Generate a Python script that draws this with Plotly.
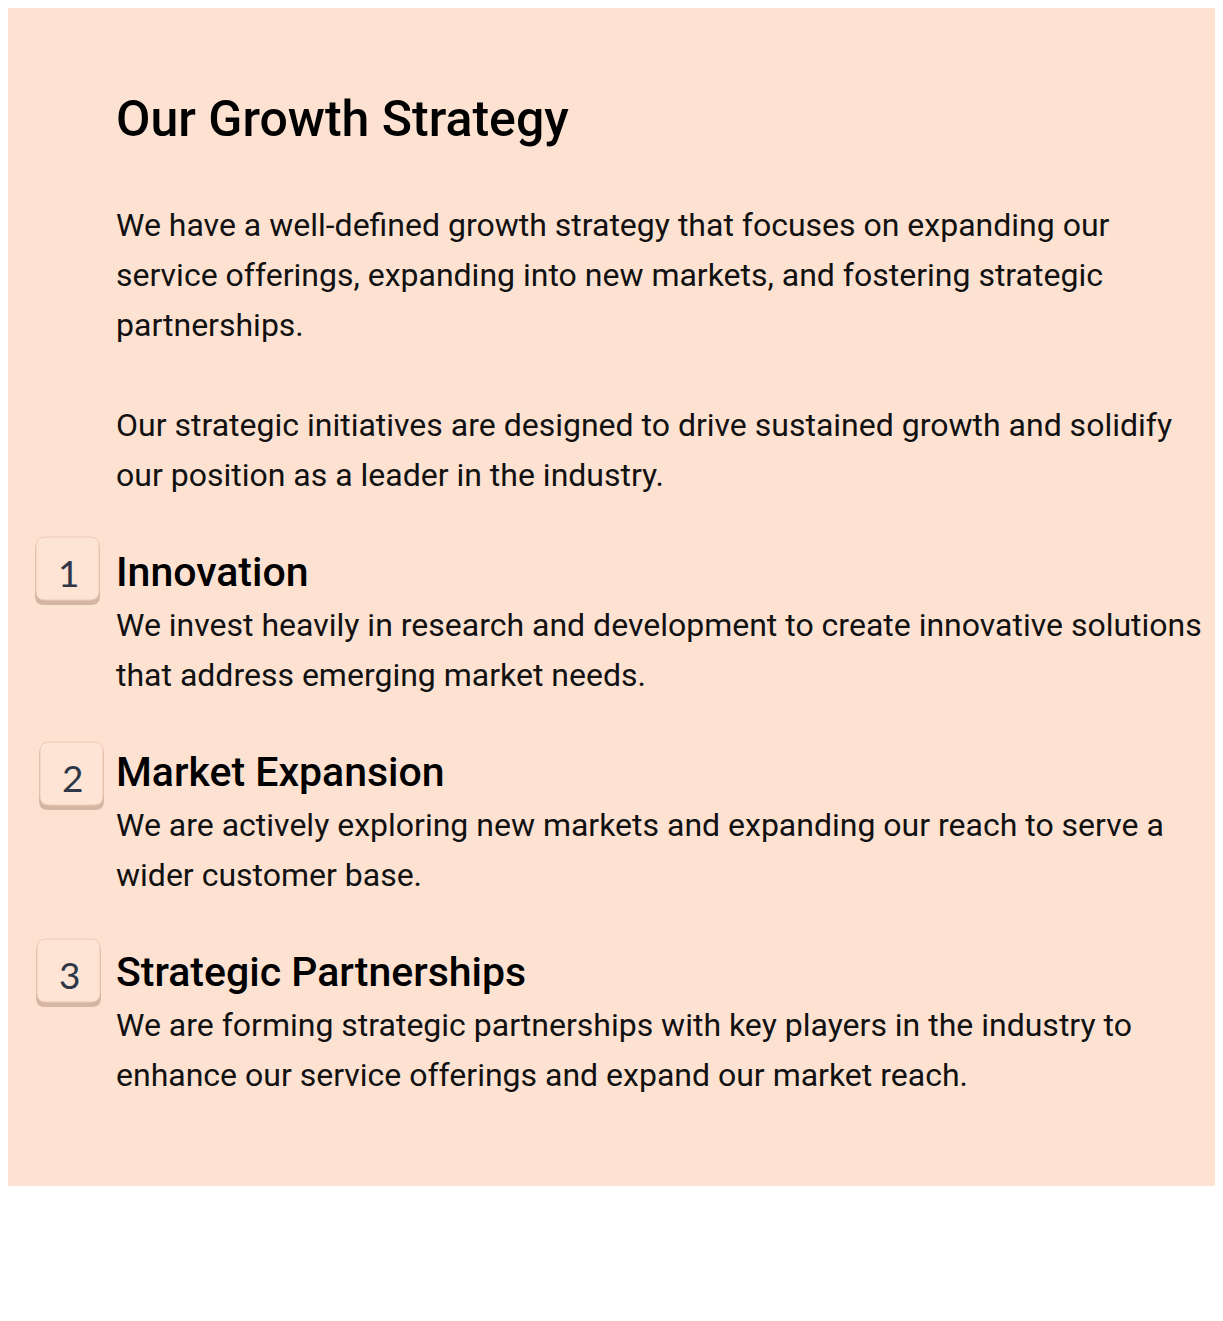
import plotly.graph_objects as go

W, H = 1223, 1321
OFF = 8  # page body margin
BG = "#fde2d2"

title = "Our Growth Strategy"
intro_lines = [
    "We have a well-defined growth strategy that focuses on expanding our",
    "service offerings, expanding into new markets, and fostering strategic",
    "partnerships.",
    "",
    "Our strategic initiatives are designed to drive sustained growth and solidify",
    "our position as a leader in the industry.",
]
items = ["Innovation", "Market Expansion", "Strategic Partnerships"]
item_lines = [
    ["We invest heavily in research and development to create innovative solutions",
     "that address emerging market needs."],
    ["We are actively exploring new markets and expanding our reach to serve a",
     "wider customer base."],
    ["We are forming strategic partnerships with key players in the industry to",
     "enhance our service offerings and expand our market reach."],
]
item_heading_y = [572, 772, 972]
box_x = [36, 40, 37]
box_y = [537, 742, 939]


def rounded(x0, y0, x1, y1, r):
    return (f"M{x0+r},{y0} L{x1-r},{y0} Q{x1},{y0} {x1},{y0+r} L{x1},{y1-r} "
            f"Q{x1},{y1} {x1-r},{y1} L{x0+r},{y1} Q{x0},{y1} {x0},{y1-r} "
            f"L{x0},{y0+r} Q{x0},{y0} {x0+r},{y0} Z")


fig = go.Figure()
shapes = [dict(type="path", path=rounded(0, 0, 1220, 1186, 10), xref="x", yref="y",
               fillcolor=BG, line=dict(width=0), layer="below")]
annotations = []


def txt(x, y, s, size, color="#111111", family="Roboto", weight=None):
    annotations.append(dict(x=x, y=y, xref="x", yref="y", text=s, showarrow=False,
                            xanchor="left", yanchor="middle",
                            font=dict(size=size, color=color, family=family,
                                      weight=weight)))


txt(114, 119, title, 50, "#000000", weight=500)
for i, line in enumerate(intro_lines):
    if line:
        txt(114, 225 + 50 * i, line, 32)

for k, (name, lines) in enumerate(zip(items, item_lines)):
    hy = item_heading_y[k]
    txt(114, hy, name, 41, "#000000", weight=500)
    for j, line in enumerate(lines):
        txt(114, hy + 53 + 50 * j, line, 32)
    bx, by = box_x[k], box_y[k]
    shapes.append(dict(type="path", path=rounded(bx - 1, by + 3, bx + 64, by + 68, 9),
                       xref="x", yref="y", fillcolor="rgba(110,70,50,0.28)",
                       line=dict(width=0), layer="below"))
    shapes.append(dict(type="path", path=rounded(bx, by, bx + 63, by + 63, 9),
                       xref="x", yref="y", fillcolor="#fde4d5",
                       line=dict(color="#efcbb6", width=1), layer="below"))
    annotations.append(dict(x=bx + 32, y=by + 35, xref="x", yref="y", text=str(k + 1),
                            showarrow=False, xanchor="center", yanchor="middle",
                            font=dict(size=37, color="#2d3748", family="Lato")))

fig.update_layout(
    width=W, height=H, margin=dict(l=0, r=0, t=0, b=0),
    paper_bgcolor="white", plot_bgcolor="white",
    xaxis=dict(range=[OFF, W + OFF], visible=False, fixedrange=True),
    yaxis=dict(range=[H + OFF, OFF], visible=False, fixedrange=True),
    shapes=shapes, annotations=annotations, showlegend=False,
)
fig.write_html("out.html")
